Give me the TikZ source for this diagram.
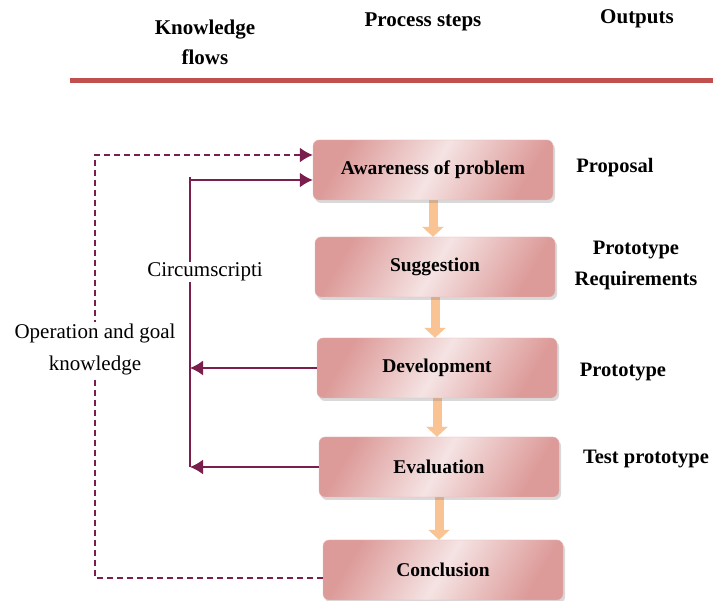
\documentclass[tikz,border=0pt]{standalone}
\usepackage{fontspec}
\setmainfont{Liberation Serif}
\usepackage{tikz}
\usetikzlibrary{arrows.meta,positioning,shadows,backgrounds}
\definecolor{maroon}{HTML}{7A1E4E}
\definecolor{rule}{HTML}{C0504D}
\definecolor{pinkdark}{HTML}{DC9A98}
\definecolor{pinklight}{HTML}{F5E3E3}
\definecolor{peach}{HTML}{F9C393}

\begin{document}
\begin{tikzpicture}[x=1pt,y=-1pt,font=\fontsize{20}{30}\selectfont,
  stepbox/.style={rectangle,rounded corners=6pt,minimum width=240pt,minimum height=60pt,
    draw=pinkdark!70,left color=pinkdark,right color=pinkdark,middle color=pinklight,shading angle=60,
    drop shadow={opacity=0.3,shadow xshift=2pt,shadow yshift=-3pt},font=\fontsize{19.5}{24}\selectfont\bfseries},
  head/.style={font=\fontsize{21}{30}\selectfont\bfseries,align=center},
  outp/.style={font=\fontsize{20.5}{31}\selectfont\bfseries,align=center},
  flow/.style={draw=maroon,line width=1.7pt,-{Latex[length=13pt,width=15pt]}},
  flowdash/.style={flow,dash pattern=on 6pt off 4pt},
  downarr/.style={draw=peach,line width=9pt,-{Triangle[length=10pt,width=21pt]}},
  lbl/.style={fill=white,inner sep=1pt,align=center,font=\fontsize{21}{32}\selectfont}]
\useasboundingbox (0,0) rectangle (713,601);

% header
\node[head] (hknow) at (205,42) {Knowledge\\flows};
\node[head] (hproc) at (423,22) {Process steps};
\node[head] (hout) at (637,19) {Outputs};
\draw[rule,line width=5pt] (70,81) -- (713,81);

% process steps
\node[stepbox] (aware) at (433,170) {Awareness of problem};
\node[stepbox] (sugg) at (435,267) {Suggestion};
\node[stepbox] (dev) at (437,368) {Development};
\node[stepbox] (eval) at (439,467) {Evaluation};
\node[stepbox] (concl) at (443,570) {Conclusion};

% outputs
\node[outp] (oprop) at (615,168) {Proposal};
\node[outp] (oreq) at (636,265) {Prototype\\Requirements};
\node[outp] (oproto) at (623,372) {Prototype};
\node[outp] (otest) at (646,459) {Test prototype};

\begin{scope}[on background layer]
\draw[downarr] (aware.south) -- (aware.south |- sugg.north);
\draw[downarr] (sugg.south) -- (sugg.south |- dev.north);
\draw[downarr] (dev.south) -- (dev.south |- eval.north);
\draw[downarr] (eval.south) -- (eval.south |- concl.north);
\end{scope}

% knowledge flows
\coordinate (dk) at (95,155);
\coordinate (ck) at (190,180);
\draw[flowdash] ([yshift=-8pt]concl.west) -| (dk) -- (dk -| aware.west);
\draw[flow] (ck) -- (ck -| aware.west);
\draw[maroon,line width=1.7pt] ([yshift=3pt]ck) -- (ck |- eval.west);
\draw[flow] (dev.west) -- (dev.west -| ck);
\draw[flow] (eval.west) -- (eval.west -| ck);

\node[lbl] (circ) at (205,272) {Circumscripti};
\node[lbl] (opgoal) at (95,349) {Operation and goal\\knowledge};
\end{tikzpicture}
\end{document}
